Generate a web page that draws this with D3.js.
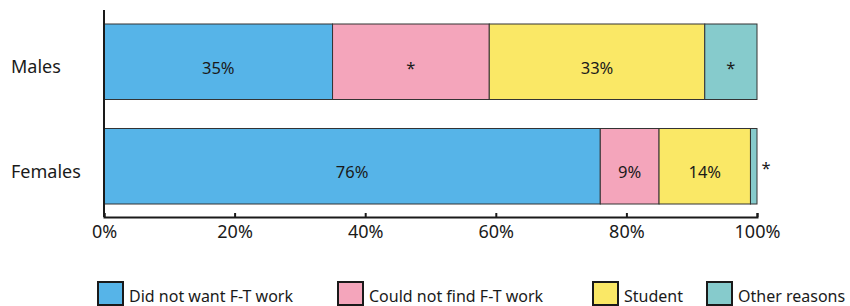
<!DOCTYPE html>
<html>
<head>
<meta charset="utf-8">
<script src="https://cdn.jsdelivr.net/npm/d3@7"></script>
<style>
body { margin: 0; background: #fff; }
text { font-family: "Noto Sans", sans-serif; fill: #1a1a1a; }
</style>
</head>
<body>
<div id="chart"></div>
<script>
var groups = ["Males", "Females"];
var reasons = ["Did not want F-T work", "Could not find F-T work", "Student", "Other reasons"];
var malesValues = [35, 24, 33, 8];
var femalesValues = [76, 9, 14, 1];
var malesLabels = ["35%", "*", "33%", "*"];
var femalesLabels = ["76%", "9%", "14%", ""];
var femalesOutside = "*";
var xTicks = [0, 20, 40, 60, 80, 100];
var colors = ["#56b4e8", "#f4a5bb", "#fae866", "#86cbcc"];

var chart_width = 850, chart_height = 306;
var plot_left = 104, plot_right = 757, plot_top = 24, plot_bottom = 204, axis_y = 217;

var svg = d3.select("#chart").append("svg")
    .attr("width", chart_width)
    .attr("height", chart_height);

var x_scale = d3.scaleLinear().domain([0, 100]).range([plot_left, plot_right]);
var y_scale = d3.scaleBand().domain(groups).range([plot_top, plot_bottom])
    .paddingInner(0.2775).paddingOuter(0);

var rows = [
    {group: "Males", values: malesValues, labels: malesLabels},
    {group: "Females", values: femalesValues, labels: femalesLabels}
];

rows.forEach(function(row) {
    var segs = [];
    var acc = 0;
    row.values.forEach(function(v, i) {
        segs.push({start: acc, end: acc + v, i: i, label: row.labels[i]});
        acc += v;
    });
    var g = svg.append("g");
    g.selectAll("rect")
        .data(segs)
        .enter()
        .append("rect")
        .attr("x", function(d) { return x_scale(d.start); })
        .attr("y", y_scale(row.group))
        .attr("width", function(d) { return x_scale(d.end) - x_scale(d.start); })
        .attr("height", y_scale.bandwidth())
        .attr("fill", function(d) { return colors[d.i]; })
        .attr("stroke", "#333")
        .attr("stroke-width", 1);
    g.selectAll("text")
        .data(segs)
        .enter()
        .append("text")
        .attr("x", function(d) { return (x_scale(d.start) + x_scale(d.end)) / 2; })
        .attr("y", y_scale(row.group) + y_scale.bandwidth() / 2 + 6)
        .attr("dy", "0.35em")
        .attr("text-anchor", "middle")
        .attr("font-size", 16.5)
        .text(function(d) { return d.label; });
});

// asterisk outside the last female segment
svg.append("text")
    .attr("x", x_scale(100) + 9)
    .attr("y", y_scale("Females") + y_scale.bandwidth() / 2 + 2)
    .attr("dy", "0.35em")
    .attr("text-anchor", "middle")
    .attr("font-size", 16.5)
    .text(femalesOutside);

// category labels
svg.append("g").selectAll("text")
    .data(groups)
    .enter()
    .append("text")
    .attr("x", 11)
    .attr("y", function(d) { return y_scale(d) + y_scale.bandwidth() / 2 + 5; })
    .attr("dy", "0.35em")
    .attr("font-size", 18)
    .text(function(d) { return d; });

// left axis line
svg.append("line")
    .attr("x1", plot_left).attr("x2", plot_left)
    .attr("y1", 10).attr("y2", axis_y)
    .attr("stroke", "#1a1a1a")
    .attr("stroke-width", 2);

// bottom axis
var x_axis = d3.axisBottom(x_scale)
    .tickValues(xTicks)
    .tickSizeInner(-4)
    .tickSizeOuter(-4)
    .tickPadding(8)
    .tickFormat(function(d) { return d + "%"; });

var ax = svg.append("g")
    .attr("transform", "translate(0," + axis_y + ")")
    .call(x_axis);
ax.select(".domain").attr("stroke", "#1a1a1a").attr("stroke-width", 2);
ax.selectAll(".tick line").attr("stroke", "#1a1a1a").attr("stroke-width", 2);
ax.selectAll(".tick text")
    .attr("font-family", "Noto Sans, sans-serif")
    .attr("font-size", 18)
    .attr("fill", "#1a1a1a");

// legend
var legendX = [98, 338, 593, 707];
var leg = svg.append("g").selectAll("g")
    .data(reasons)
    .enter()
    .append("g")
    .attr("transform", function(d, i) { return "translate(" + legendX[i] + ",282)"; });
leg.append("rect")
    .attr("width", 25)
    .attr("height", 23)
    .attr("fill", function(d, i) { return colors[i]; })
    .attr("stroke", "#1a1a1a")
    .attr("stroke-width", 2);
leg.append("text")
    .attr("x", 31)
    .attr("y", 14)
    .attr("dy", "0.35em")
    .attr("font-size", 16)
    .text(function(d) { return d; });
</script>
</body>
</html>
